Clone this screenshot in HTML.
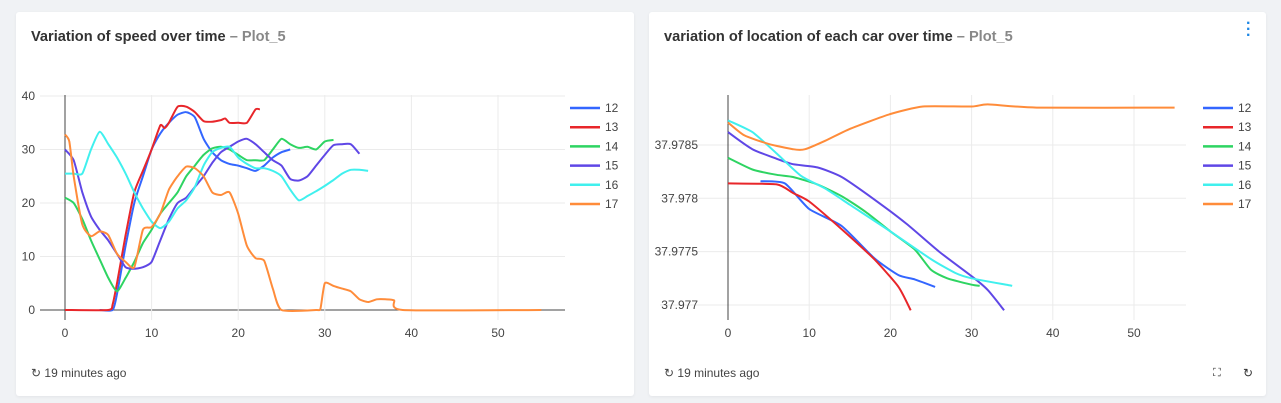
<!DOCTYPE html>
<html><head><meta charset="utf-8">
<style>
body{margin:0;width:1281px;height:403px;background:#f0f2f5;font-family:"Liberation Sans",sans-serif;position:relative;overflow:hidden}
.card{position:absolute;top:12px;height:384px;background:#fff;border-radius:3px;box-shadow:0 1px 3px rgba(0,0,0,0.06)}
.title{position:absolute;left:15px;top:17px;font-size:14.6px;font-weight:bold;color:#333}
.title span{color:#888;font-weight:bold}
.ago{position:absolute;left:15px;top:354px;font-size:12px;color:#444}
svg{position:absolute;left:0;top:0}
svg text{font-family:"Liberation Sans",sans-serif;font-size:12px;fill:#444}
</style></head><body>
<div class="card" style="left:16px;width:618px">
 <div class="title">Variation of speed over time <span>– Plot_5</span></div>
 <div class="ago">↻ 19 minutes ago</div>
</div>
<div class="card" style="left:649px;width:617px">
 <div class="title">variation of location of each car over time <span>– Plot_5</span></div>
 <div class="ago">↻ 19 minutes ago</div>
 <div style="position:absolute;left:597px;top:9px;color:#1e88e5;font-size:16px;line-height:6px;font-weight:bold">·<br>·<br>·</div>
 <div style="position:absolute;left:564px;top:355px;font-size:11px;color:#333">⛶</div>
 <div style="position:absolute;left:594px;top:354px;font-size:12px;color:#333">↻</div>
</div>
<svg id="chart" width="1281" height="403"></svg>
<script>
const seriesNames=["12","13","14","15","16","17"];
const colors=["#3366ff","#e8262a","#2ed462","#5f47e6","#40f0ee","#ff8c3a"];
const xTicks=[0,10,20,30,40,50];
const speedYTicks=[0,10,20,30,40];
const locYTicks=[37.977,37.9775,37.978,37.9785];
const locYTickLabels=["37.977","37.9775","37.978","37.9785"];
const s12=[[4,0],[5.5,0],[6,3],[7,12],[8,20],[9,25],[10,30],[11,33],[12,35],[13,36.5],[14,37],[15,36],[16,32],[17,29.5],[18,28],[19,27.3],[20,27],[21,26.5],[22,26],[23,27],[24,28.5],[25,29.5],[26,30]];
const s13=[[0,0],[5,0],[5.5,1],[6,5],[7,14],[8,22],[9,26],[10,30],[11,34.5],[11.5,34],[12,35],[13,38],[14,38],[15,37],[16,35.3],[17,35.2],[18,35.5],[18.5,35.8],[19,35],[20,35],[21,35],[22,37.5],[22.5,37.5]];
const s14=[[0,21],[1,20],[2,17],[3,13],[4,9.5],[5,6],[6,3.5],[7,6],[8,9],[9,12.5],[10,15],[11,18],[12,20],[13,22],[14,25],[15,27],[16,29],[17,30.2],[18,30.5],[19,30],[20,29],[21,28],[22,28],[23,28],[24,30],[25,32],[26,31],[27,30.3],[28,30.5],[29,30],[30,31.5],[31,31.8]];
const s15=[[0,30],[1,28],[2,22],[3,17.5],[4,15],[5,13],[6,10.5],[7,8],[8,7.7],[9,8],[10,9],[11,13],[12,17],[13,20],[14,21],[15,23],[16,25],[17,27.5],[18,29.5],[19,30.5],[20,31.5],[21,32],[22,31],[23,29.5],[24,28],[25,27],[26,24.5],[27,24.2],[28,25],[29,27],[30,29],[31,30.8],[32,31],[33,31],[34,29.2]];
const s16=[[0,25.5],[1,25.5],[2,25.5],[3,30],[4,33.3],[5,31],[6,28.5],[7,25.5],[8,22],[9,19],[10,16.5],[11,15.3],[12,16.5],[13,19],[14,20.5],[15,23],[16,27],[17,29.5],[18,30.3],[19,30.5],[20,28.5],[21,27.3],[22,26.5],[23,26.5],[24,26],[25,25],[26,22.5],[27,20.5],[28,21.3],[29,22.2],[30,23.2],[31,24.3],[32,25.5],[33,26.2],[34,26.2],[35,26]];
const s17=[[0,32.8],[0.5,31.5],[1,25],[2,16],[3,13.8],[4,14.7],[5,14],[6,10.5],[7,9],[8,8],[9,15],[10,15.5],[11,18],[12,22.5],[13,25],[14,26.8],[15,26.5],[16,25],[17,22],[18,21.5],[19,22],[20,18],[21,12],[22,9.7],[23,9.2],[24,4],[25,0],[29,0],[29.5,0.3],[30,5],[31,4.5],[32,4],[33,3.5],[34,2],[35,1.5],[36,2],[37,2],[38,1.8],[39,0],[55,0]];
const L12=[[4,37.97816],[7,37.97814],[10,37.9779],[14,37.97774],[18,37.97744],[21,37.97728],[23,37.97724],[25.5,37.97717]];
const L13=[[0,37.97814],[6,37.97813],[8,37.97805],[10,37.97797],[14,37.97771],[18,37.97743],[21,37.97717],[22.5,37.97695]];
const L14=[[0,37.97838],[3,37.97827],[6,37.97822],[8,37.9782],[11,37.97813],[14,37.97802],[17,37.97787],[20,37.97769],[23,37.97752],[25,37.97733],[27,37.97725],[30,37.97719],[31,37.97718]];
const L15=[[0,37.97862],[3,37.97846],[6,37.97837],[8,37.97832],[11,37.97829],[14,37.9782],[18,37.97799],[22,37.97776],[26,37.9775],[30,37.97727],[32,37.97714],[34,37.97695]];
const L16=[[0,37.97873],[3,37.97862],[6,37.97842],[9,37.97821],[12,37.97809],[15,37.97794],[20,37.97769],[25,37.97743],[28,37.9773],[30,37.97725],[35,37.97718]];
const L17=[[0,37.97871],[2,37.97859],[5,37.97851],[8,37.97846],[9.5,37.97846],[12,37.97854],[15,37.97865],[20,37.97879],[24,37.97886],[30,37.97886],[32,37.97888],[38,37.97885],[55,37.97885]];
const speedData=[s12,s13,s14,s15,s16,s17];
const locData=[L12,L13,L14,L15,L16,L17];

const svg=document.getElementById('chart');
const NS='http://www.w3.org/2000/svg';
function mk(tag,attrs){const e=document.createElementNS(NS,tag);for(const k in attrs)e.setAttribute(k,attrs[k]);svg.appendChild(e);return e;}
function pathD(pts){
  let d='M'+pts[0][0].toFixed(1)+','+pts[0][1].toFixed(1);
  for(let i=0;i<pts.length-1;i++){
    const p0=pts[Math.max(0,i-1)],p1=pts[i],p2=pts[i+1],p3=pts[Math.min(pts.length-1,i+2)];
    const t=0.1;
    const c1x=p1[0]+(p2[0]-p0[0])*t,c1y=p1[1]+(p2[1]-p0[1])*t;
    const c2x=p2[0]-(p3[0]-p1[0])*t,c2y=p2[1]-(p3[1]-p1[1])*t;
    d+=' C'+c1x.toFixed(1)+','+c1y.toFixed(1)+' '+c2x.toFixed(1)+','+c2y.toFixed(1)+' '+p2[0].toFixed(1)+','+p2[1].toFixed(1);
  }
  return d;
}
function drawChart(cfg){
  const {xs,ys,gx0,gx1,yTicks,yLabels,data,legX,prefix}=cfg;
  yTicks.forEach((v,i)=>{
    const g=mk('line',{x1:gx0,x2:gx1,y1:ys(v),y2:ys(v),stroke:(prefix==='speed'&&v===0)?'#444':'#ebebeb','stroke-width':1});
    
    
    const t=mk('text',{x:xs(0)-30,y:ys(v)+4,'text-anchor':'end'});
    t.textContent=yLabels[i];
    
    
  });
  xTicks.forEach(v=>{
    if(v>0){const g=mk('line',{x1:xs(v),x2:xs(v),y1:95,y2:320,stroke:'#ebebeb','stroke-width':1});
    
    }
    const t=mk('text',{x:xs(v),y:337,'text-anchor':'middle'});
    t.textContent=v;
    
    
  });
  const ax=mk('line',{x1:xs(0),x2:xs(0),y1:95,y2:320,stroke:'#444','stroke-width':1});
  
  
  data.forEach((s,i)=>{
    const pts=s.map(p=>[xs(p[0]),ys(p[1])]);
    const p=mk('path',{d:pathD(pts),fill:'none',stroke:colors[i],'stroke-width':2,'stroke-linejoin':'round'});
    
    
    const ly=108+i*19.2;
    const l=mk('line',{x1:legX,x2:legX+30,y1:ly,y2:ly,stroke:colors[i],'stroke-width':2.5});
    
    
    const t=mk('text',{x:legX+35,y:ly+4});
    t.textContent=seriesNames[i];
    
    
  });
}
drawChart({xs:v=>65+v*8.66,ys:v=>310-v*5.35,gx0:40,gx1:565,yTicks:speedYTicks,yLabels:speedYTicks.map(String),data:speedData,legX:570,prefix:'speed'});
drawChart({xs:v=>728+v*8.12,ys:v=>305-(v-37.977)*106700,gx0:660,gx1:1186,yTicks:locYTicks,yLabels:locYTickLabels,data:locData,legX:1203,prefix:'location'});
</script>
</body></html>
